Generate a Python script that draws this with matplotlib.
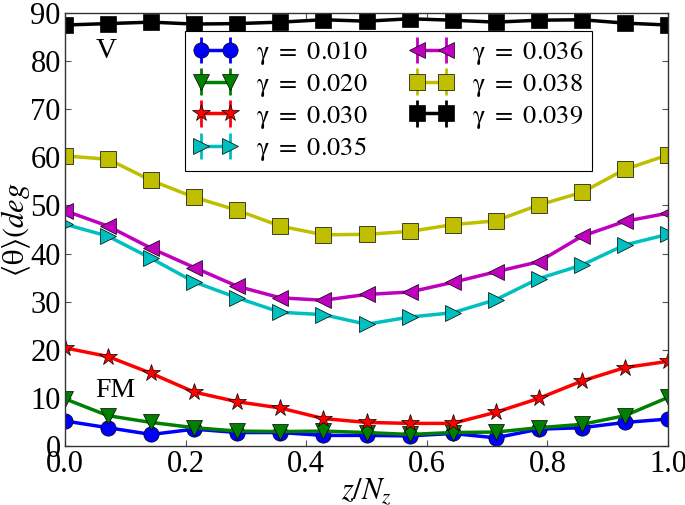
import matplotlib
matplotlib.use("Agg")
import matplotlib.pyplot as plt
import numpy as np

plt.rcParams['font.family'] = ['Liberation Serif', 'DejaVu Serif']
plt.rcParams['mathtext.fontset'] = 'stix'
plt.rcParams['xtick.direction'] = 'in'
plt.rcParams['ytick.direction'] = 'in'
plt.rcParams['xtick.top'] = True
plt.rcParams['ytick.right'] = True

z = [i / 14 for i in range(15)]

gammas = ['0.010', '0.020', '0.030', '0.035', '0.036', '0.038', '0.039']

theta_010 = [5.2, 3.8, 2.4, 3.5, 2.8, 2.8, 2.2, 2.2, 2.1, 2.6, 1.7, 3.5, 3.8, 4.9, 5.6]
theta_020 = [9.8, 6.3, 4.9, 3.8, 3.1, 3.0, 3.1, 2.8, 2.4, 2.8, 2.9, 3.8, 4.5, 6.3, 10.1]
theta_030 = [20.4, 18.6, 15.1, 11.2, 9.2, 7.9, 5.7, 4.9, 4.7, 4.7, 7.0, 9.9, 13.5, 16.3, 17.6]
theta_035 = [46.1, 43.6, 39.0, 34.1, 30.8, 27.8, 27.3, 25.3, 26.8, 27.7, 30.4, 34.8, 37.6, 41.8, 44.0]
theta_036 = [48.9, 45.7, 41.1, 37.1, 33.2, 30.8, 30.3, 31.5, 32.0, 34.0, 36.2, 38.3, 43.6, 46.7, 48.4]
theta_038 = [60.3, 59.6, 55.2, 51.7, 49.0, 45.7, 43.9, 44.0, 44.6, 46.0, 46.8, 50.1, 52.7, 57.5, 60.5]
theta_039 = [87.5, 87.8, 88.1, 87.7, 87.8, 88.1, 88.6, 88.3, 88.8, 88.5, 88.1, 88.5, 88.6, 87.9, 87.5]

yerr_all = [0.4] * 15

series = [theta_010, theta_020, theta_030, theta_035, theta_036, theta_038, theta_039]
colors = ['b', 'g', 'r', 'c', 'm', 'y', 'k']
markers = ['o', 'v', '*', '>', '<', 's', 's']
msizes = [11, 11, 13, 11, 11, 11, 11]

fig = plt.figure(figsize=(6.85, 5.05), dpi=100)
ax = fig.add_axes([65 / 685, 1 - 446 / 505, 603 / 685, 433 / 505])

for vals, col, mk, ms, g in zip(series, colors, markers, msizes, gammas):
    ax.errorbar(z, vals, yerr=yerr_all, color=col, marker=mk, markersize=ms,
                linewidth=2.5, elinewidth=2, capsize=0, markeredgecolor='k',
                markeredgewidth=0.5, label=r'$\mathrm{\gamma}\ =\ %s$' % g)

ax.set_xlim(0, 1.0)
ax.set_ylim(0, 90)
ax.set_xticks([0.0, 0.2, 0.4, 0.6, 0.8, 1.0])
ax.set_yticks(range(0, 91, 10))
ax.tick_params(labelsize=22, length=4, width=0.8, color='#555555', pad=3)
ax.set_xticklabels(['0.0', '0.2', '0.4', '0.6', '0.8', '1.0'])

ax.set_xlabel(r'$z/N_z$', fontsize=22, labelpad=-2)
ax.set_ylabel(r'$\langle\mathrm{\theta}\rangle(deg$', fontsize=22, labelpad=-2)

ax.text(0.068, 82.0, 'V', fontsize=21, ha='center', va='center')
ax.text(0.083, 11.6, 'FM', fontsize=20, ha='center', va='center')

leg = ax.legend(loc='upper left', bbox_to_anchor=(0.199, 0.958), ncol=2,
                fontsize=19, numpoints=2, handlelength=1.7, frameon=True,
                fancybox=False, edgecolor='k', framealpha=1,
                borderpad=0.3, labelspacing=0.18, columnspacing=1.6,
                handletextpad=0.68, borderaxespad=0)
leg.get_frame().set_linewidth(0.8)

for sp in ax.spines.values():
    sp.set_linewidth(1.0)
    sp.set_color('#333333')

fig.savefig('out.png', dpi=100)
